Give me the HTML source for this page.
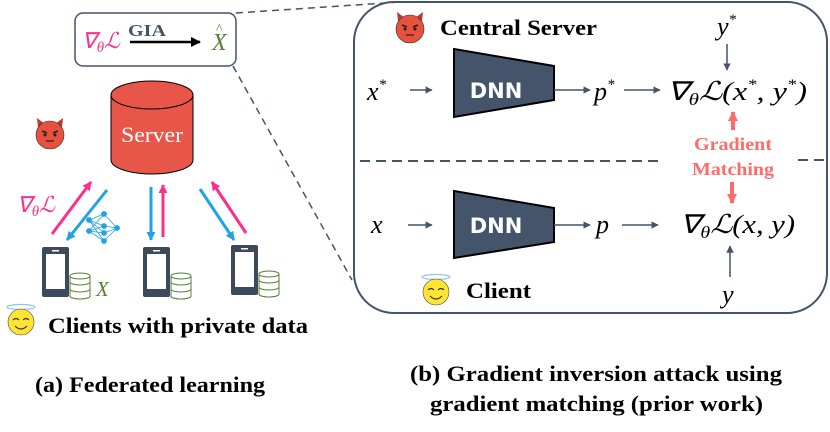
<!DOCTYPE html>
<html><head><meta charset="utf-8"><style>
html,body{margin:0;padding:0;background:#fff;}
svg{display:block;}
.m{font-family:"Liberation Serif","Times New Roman",serif;font-style:italic;}
.b{font-family:"Liberation Serif","Times New Roman",serif;font-weight:bold;}
</style></head><body>
<svg width="830" height="432" viewBox="0 0 830 432" xmlns="http://www.w3.org/2000/svg">
<defs>
<marker id="ag" viewBox="0 0 10 10" refX="9" refY="5" markerWidth="5" markerHeight="5" orient="auto"><path d="M0,0L10,5L0,10z" fill="#44546a"/></marker>
<marker id="ak" viewBox="0 0 10 10" refX="9" refY="5" markerWidth="4" markerHeight="4" orient="auto"><path d="M0,0L10,5L0,10z" fill="#000"/></marker>
<marker id="ap" viewBox="0 0 10 10" refX="9" refY="5" markerWidth="3" markerHeight="3" orient="auto"><path d="M0,0L10,5L0,10z" fill="#ff2d8a"/></marker>
<marker id="ab" viewBox="0 0 10 10" refX="9" refY="5" markerWidth="3" markerHeight="3" orient="auto"><path d="M0,0L10,5L0,10z" fill="#1fa3e6"/></marker>
<marker id="ar" viewBox="0 0 10 10" refX="9" refY="5" markerWidth="2.5" markerHeight="2.5" orient="auto"><path d="M0,0L10,5L0,10z" fill="#ff6b6b"/></marker>
</defs>

<line x1="236" y1="13" x2="400" y2="2" stroke="#44546a" stroke-width="1.5" stroke-dasharray="7,5"/>
<line x1="233" y1="66" x2="352" y2="280" stroke="#44546a" stroke-width="1.5" stroke-dasharray="7,5"/>

<rect x="75" y="13" width="161" height="53" rx="8" fill="#fff" stroke="#44546a" stroke-width="1.5"/>
<text x="82" y="48" class="m" font-size="22" fill="#ff2d8a">∇<tspan font-size="15" dy="4">θ</tspan><tspan dy="-4">ℒ</tspan></text>
<text x="147" y="36" class="b" font-size="17" fill="#44546a" text-anchor="middle" textLength="38" lengthAdjust="spacingAndGlyphs">GIA</text>
<line x1="130" y1="42" x2="200" y2="42" stroke="#000" stroke-width="2.5" marker-end="url(#ak)"/>
<text x="212" y="50" class="m" font-size="24" fill="#548235">X</text>
<text x="216" y="33" font-size="14" fill="#548235" class="m" style="font-style:normal">^</text>

<path d="M111,95 L111,160 A41,14 0 0 0 193,160 L193,95" fill="#e8564a" stroke="#000" stroke-width="1"/>
<ellipse cx="152" cy="95" rx="41" ry="14" fill="#e8564a" stroke="#000" stroke-width="1"/>
<text x="152" y="142" style="font-family:'Liberation Serif','Times New Roman',serif;font-style:normal" font-size="22" fill="#fff" text-anchor="middle" textLength="62" lengthAdjust="spacingAndGlyphs">Server</text>

<g transform="translate(50,135)">
<path d="M-12,-8 L-13,-17 L-5,-11 Z M12,-8 L13,-17 L5,-11 Z" fill="#c0392b"/>
<circle r="14" fill="#e8503f" stroke="#333" stroke-width="0.6"/>
<path d="M-8,-4 L-3,-2 M8,-4 L3,-2" stroke="#222" stroke-width="1.5"/>
<circle cx="-5" cy="0" r="1.5" fill="#222"/><circle cx="5" cy="0" r="1.5" fill="#222"/>
<line x1="-4" y1="6" x2="4" y2="6" stroke="#222" stroke-width="1.2"/>
</g>

<g stroke-width="3">
<line x1="52" y1="234" x2="91" y2="182" stroke="#ff2d8a" marker-end="url(#ap)"/>
<line x1="107" y1="190" x2="67" y2="240" stroke="#1fa3e6" marker-end="url(#ab)"/>
<line x1="151" y1="187" x2="151" y2="240" stroke="#1fa3e6" marker-end="url(#ab)"/>
<line x1="163" y1="237" x2="163" y2="185" stroke="#ff2d8a" marker-end="url(#ap)"/>
<line x1="200" y1="189" x2="234" y2="240" stroke="#1fa3e6" marker-end="url(#ab)"/>
<line x1="246" y1="233" x2="212" y2="182" stroke="#ff2d8a" marker-end="url(#ap)"/>
</g>
<text x="17" y="212" class="m" font-size="22" fill="#ff2d8a">∇<tspan font-size="15" dy="4">θ</tspan><tspan dy="-4">ℒ</tspan></text>

<g stroke="#1fa3e6" stroke-width="0.8" fill="#1fa3e6">
<path d="M89,220 L104,214 M89,220 L104,226 M89,220 L104,233 M89,231 L104,214 M89,231 L104,226 M89,231 L104,241 M89,231 L104,233 M104,214 L117,228 M104,226 L117,228 M104,233 L117,228 M104,241 L117,228 M89,220 L104,241"/>
<circle cx="89" cy="220" r="2.5"/><circle cx="89" cy="231" r="2.5"/>
<circle cx="104" cy="214" r="2.5"/><circle cx="104" cy="226" r="2.5"/><circle cx="104" cy="233" r="2.5"/><circle cx="104" cy="241" r="2.5"/>
<circle cx="117" cy="228" r="2.5"/>
</g>

<g id="ph">
<rect x="42" y="247" width="27" height="50" rx="2" fill="#3d4a5c"/>
<rect x="46" y="254" width="19" height="35" fill="#fff"/>
<rect x="52" y="250" width="7" height="1.5" fill="#fff"/>
<g fill="#fff" stroke="#548235" stroke-width="1">
<ellipse cx="80" cy="296" rx="10" ry="3"/>
<path d="M70,289 v7 a10,3 0 0 0 20,0 v-7"/>
<path d="M70,282 v7 a10,3 0 0 0 20,0 v-7"/>
<path d="M70,276 v6 a10,3 0 0 0 20,0 v-6"/>
<ellipse cx="80" cy="276" rx="10" ry="3"/>
</g>
</g>
<use href="#ph" transform="translate(101,0)"/>
<use href="#ph" transform="translate(189,-2)"/>
<text x="96" y="296" class="m" font-size="21" fill="#548235">X</text>

<g transform="translate(21,322)">
<ellipse cx="0" cy="-15" rx="14" ry="2.5" fill="none" stroke="#8fc6e8" stroke-width="1.2"/>
<circle r="13" fill="#ffe433" stroke="#444" stroke-width="0.6"/>
<path d="M-8,-2 q3,-3 6,0 M2,-2 q3,-3 6,0" stroke="#333" stroke-width="1.2" fill="none"/>
<path d="M-6,4 q6,6 12,0" stroke="#333" stroke-width="1.2" fill="none"/>
</g>
<text x="48" y="333" class="b" font-size="22" textLength="260" lengthAdjust="spacingAndGlyphs">Clients with private data</text>

<text x="35" y="392" class="b" font-size="22" textLength="230" lengthAdjust="spacingAndGlyphs">(a) Federated learning</text>
<text x="410" y="381" class="b" font-size="22" textLength="372" lengthAdjust="spacingAndGlyphs">(b) Gradient inversion attack using</text>
<text x="430" y="411" class="b" font-size="22" textLength="333" lengthAdjust="spacingAndGlyphs">gradient matching (prior work)</text>

<rect x="354" y="2" width="473" height="311" rx="40" fill="none" stroke="#44546a" stroke-width="2"/>
<line x1="360" y1="161" x2="660" y2="161" stroke="#44546a" stroke-width="2" stroke-dasharray="10,6"/>
<line x1="798" y1="160" x2="826" y2="160" stroke="#44546a" stroke-width="2" stroke-dasharray="10,6"/>

<g transform="translate(410,29)">
<path d="M-12,-8 L-13,-17 L-5,-11 Z M12,-8 L13,-17 L5,-11 Z" fill="#c0392b"/>
<circle r="14" fill="#e8503f" stroke="#333" stroke-width="0.6"/>
<path d="M-8,-4 L-3,-2 M8,-4 L3,-2" stroke="#222" stroke-width="1.5"/>
<circle cx="-5" cy="0" r="1.5" fill="#222"/><circle cx="5" cy="0" r="1.5" fill="#222"/>
<line x1="-4" y1="6" x2="4" y2="6" stroke="#222" stroke-width="1.2"/>
</g>
<text x="440" y="35" class="b" font-size="22" textLength="157" lengthAdjust="spacingAndGlyphs">Central Server</text>

<text x="717" y="35" class="m" font-size="26">y<tspan font-size="15" dy="-11">*</tspan></text>
<line x1="727" y1="44" x2="727" y2="70" stroke="#44546a" stroke-width="1.5" marker-end="url(#ag)"/>
<text x="367" y="100" class="m" font-size="26">x<tspan font-size="15" dy="-11">*</tspan></text>
<line x1="410" y1="90" x2="432" y2="90" stroke="#44546a" stroke-width="1.5" marker-end="url(#ag)"/>
<polygon points="454,49 554,66 554,100 454,117" fill="#44546a" stroke="#000" stroke-width="2"/>
<text x="496" y="98" font-family="DejaVu Sans,sans-serif" font-weight="bold" font-size="21" fill="#fff" text-anchor="middle">DNN</text>
<line x1="554" y1="90" x2="590" y2="90" stroke="#44546a" stroke-width="1.5" marker-end="url(#ag)"/>
<text x="594" y="100" class="m" font-size="26">p<tspan font-size="15" dy="-11">*</tspan></text>
<line x1="624" y1="90" x2="660" y2="90" stroke="#44546a" stroke-width="1.5" marker-end="url(#ag)"/>
<text x="667" y="100" class="m" font-size="26" textLength="140" lengthAdjust="spacingAndGlyphs">∇<tspan font-size="17" dy="5">θ</tspan><tspan dy="-5">ℒ(x</tspan><tspan font-size="15" dy="-11">*</tspan><tspan dy="11">, y</tspan><tspan font-size="15" dy="-11">*</tspan><tspan dy="11">)</tspan></text>

<line x1="733" y1="130" x2="733" y2="112" stroke="#ff6b6b" stroke-width="4" marker-end="url(#ar)"/>
<text x="733" y="150" class="b" font-size="18" fill="#ff6b6b" text-anchor="middle" textLength="78" lengthAdjust="spacingAndGlyphs">Gradient</text>
<text x="733" y="175" class="b" font-size="18" fill="#ff6b6b" text-anchor="middle" textLength="82" lengthAdjust="spacingAndGlyphs">Matching</text>
<line x1="732" y1="182" x2="732" y2="203" stroke="#ff6b6b" stroke-width="4" marker-end="url(#ar)"/>

<text x="371" y="233" class="m" font-size="26">x</text>
<line x1="408" y1="225" x2="432" y2="225" stroke="#44546a" stroke-width="1.5" marker-end="url(#ag)"/>
<polygon points="454,191 554,208 554,242 454,258" fill="#44546a" stroke="#000" stroke-width="2"/>
<text x="496" y="233" font-family="DejaVu Sans,sans-serif" font-weight="bold" font-size="21" fill="#fff" text-anchor="middle">DNN</text>
<line x1="554" y1="225" x2="590" y2="225" stroke="#44546a" stroke-width="1.5" marker-end="url(#ag)"/>
<text x="596" y="233" class="m" font-size="26">p</text>
<line x1="622" y1="225" x2="658" y2="225" stroke="#44546a" stroke-width="1.5" marker-end="url(#ag)"/>
<text x="680" y="233" class="m" font-size="26" textLength="115" lengthAdjust="spacingAndGlyphs">∇<tspan font-size="17" dy="5">θ</tspan><tspan dy="-5">ℒ(x, y)</tspan></text>
<line x1="730" y1="277" x2="730" y2="246" stroke="#44546a" stroke-width="1.5" marker-end="url(#ag)"/>
<text x="722" y="303" class="m" font-size="26">y</text>

<g transform="translate(436,292)">
<ellipse cx="0" cy="-15" rx="14" ry="2.5" fill="none" stroke="#8fc6e8" stroke-width="1.2"/>
<circle r="13" fill="#ffe433" stroke="#444" stroke-width="0.6"/>
<path d="M-8,-2 q3,-3 6,0 M2,-2 q3,-3 6,0" stroke="#333" stroke-width="1.2" fill="none"/>
<path d="M-6,4 q6,6 12,0" stroke="#333" stroke-width="1.2" fill="none"/>
</g>
<text x="466" y="298" class="b" font-size="22" textLength="65" lengthAdjust="spacingAndGlyphs">Client</text>
</svg>
</body></html>
